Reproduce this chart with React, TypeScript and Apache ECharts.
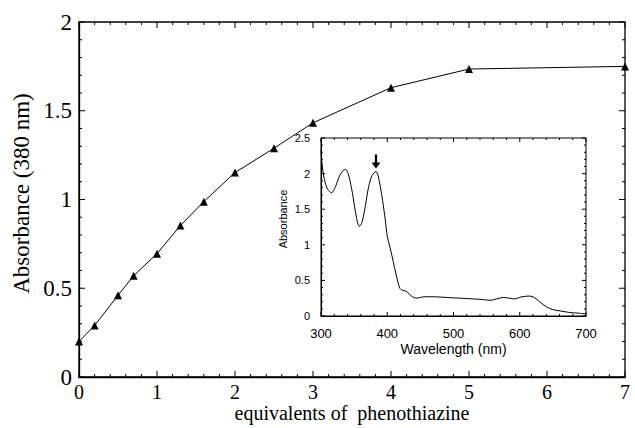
import React, { useEffect, useRef } from "react";
import * as echarts from "echarts";

// Main titration data: equivalents of phenothiazine vs absorbance at 380 nm
const equivalents = [0, 0.2, 0.5, 0.7, 1.0, 1.3, 1.6, 2.0, 2.5, 3.0, 4.0, 5.0, 7.0];
const absorbance380 = [0.2, 0.29, 0.46, 0.57, 0.695, 0.853, 0.988, 1.152, 1.289, 1.432, 1.63, 1.735, 1.75];

// Inset spectrum: wavelength (nm) vs absorbance
const wavelengths = [
  300, 302, 305, 310, 316, 322, 328, 334, 337, 341, 346, 351, 355, 358, 362, 367, 372, 377, 383,
  386, 389.5, 393, 397, 400, 404, 407, 411, 415, 419, 423, 428, 433, 438, 445, 455, 470, 490, 510,
  530, 545, 555, 565, 575, 585, 592, 603, 615, 622, 630, 640, 650, 662, 675, 688, 700,
];
const spectrum = [
  2.33, 2.1, 1.92, 1.78, 1.73, 1.82, 1.97, 2.05, 2.06, 2.0, 1.8, 1.52, 1.32, 1.26, 1.32, 1.55, 1.82, 1.97, 2.03,
  1.98, 1.82, 1.62, 1.35, 1.12, 0.97, 0.85, 0.68, 0.52, 0.39, 0.36, 0.35, 0.31, 0.27, 0.25, 0.27, 0.27, 0.26, 0.25,
  0.24, 0.23, 0.22, 0.24, 0.26, 0.25, 0.24, 0.27, 0.28, 0.26, 0.2, 0.13, 0.09, 0.07, 0.05, 0.04, 0.03,
];
const arrowAt = [383, 2.17];

// Axis tick values
const mainXMajor = [0, 1, 2, 3, 4, 5, 6, 7];
const mainYMajor = [0, 0.5, 1, 1.5, 2];
const insetXMajor = [300, 400, 500, 600, 700];
const insetYMajor = [0, 0.5, 1, 1.5, 2, 2.5];
const MINOR_SPLIT = 5;

const SERIF = "Liberation Serif";
const SANS = "Liberation Sans";

function minorOf(major: number[]) {
  const out: number[] = [];
  for (let i = 0; i < major.length - 1; i++) {
    const step = (major[i + 1] - major[i]) / MINOR_SPLIT;
    for (let k = 1; k < MINOR_SPLIT; k++) out.push(major[i] + step * k);
  }
  return out;
}

// Ticks on all four sides of a frame, placed through the axes' scales (drawn as thin filled rects)
function tickSeries(axisIdx: number, xMajor: number[], yMajor: number[], majLen: number, minLen: number, z: number) {
  const xMin = xMajor[0], xMax = xMajor[xMajor.length - 1];
  const yMin = yMajor[0], yMax = yMajor[yMajor.length - 1];
  const items: { v: number[]; side: number; len: number }[] = [];
  const push = (vals: number[], len: number, isX: boolean) => {
    vals.forEach((v) => {
      if (isX) {
        items.push({ v: [v, yMin], side: 0, len });
        items.push({ v: [v, yMax], side: 1, len });
      } else {
        items.push({ v: [xMin, v], side: 2, len });
        items.push({ v: [xMax, v], side: 3, len });
      }
    });
  };
  push(xMajor, majLen, true);
  push(minorOf(xMajor), minLen, true);
  push(yMajor, majLen, false);
  push(minorOf(yMajor), minLen, false);
  return {
    type: "custom",
    xAxisIndex: axisIdx,
    yAxisIndex: axisIdx,
    silent: true,
    clip: false,
    z,
    data: items.map((it) => it.v),
    renderItem: (params: any, api: any) => {
      const it = items[params.dataIndex];
      const p = api.coord(it.v);
      const L = it.len;
      let shape;
      if (it.side === 0) shape = { x: p[0] - 0.5, y: p[1] - L, width: 1, height: L };
      else if (it.side === 1) shape = { x: p[0] - 0.5, y: p[1], width: 1, height: L };
      else if (it.side === 2) shape = { x: p[0], y: p[1] - 0.5, width: L, height: 1 };
      else shape = { x: p[0] - L, y: p[1] - 0.5, width: L, height: 1 };
      return { type: "rect", shape, style: { fill: "#000" } };
    },
  };
}

function baseAxis(extra: any, lw: number) {
  return {
    type: "value",
    axisLine: { show: true, onZero: false, lineStyle: { color: "#000", width: lw } },
    axisTick: { show: false },
    minorTick: { show: false },
    splitLine: { show: false },
    nameMoveOverlap: false,
    ...extra,
  };
}

export default function App() {
  const ref = useRef<HTMLDivElement>(null);
  useEffect(() => {
    if (!ref.current) return;
    const chart = echarts.init(ref.current, undefined, { renderer: "svg" });
    const option: any = {
      animation: false,
      backgroundColor: "#fff",
      grid: [
        { left: 79, top: 22, right: 10, bottom: 49, show: true, borderColor: "#000", borderWidth: 1.3, backgroundColor: "transparent" },
        { left: 321, top: 138, right: 49, bottom: 112, show: true, backgroundColor: "#fff", borderColor: "#000", borderWidth: 1, z: 5 },
      ],
      xAxis: [
        baseAxis(
          {
            gridIndex: 0,
            min: mainXMajor[0],
            max: mainXMajor[mainXMajor.length - 1],
            interval: 1,
            name: "equivalents of  phenothiazine",
            nameLocation: "middle",
            nameGap: 26,
            nameTextStyle: { fontFamily: SERIF, fontSize: 20, color: "#000" },
            axisLabel: { show: true, margin: 5, fontFamily: SERIF, fontSize: 20, color: "#000" },
          },
          1.3
        ),
        baseAxis(
          {
            gridIndex: 1,
            min: insetXMajor[0],
            max: insetXMajor[insetXMajor.length - 1],
            interval: 100,
            name: "Wavelength (nm)",
            nameLocation: "middle",
            nameGap: 26,
            nameTextStyle: { fontFamily: SANS, fontSize: 14, color: "#000" },
            axisLabel: { show: true, margin: 11, fontFamily: SANS, fontSize: 13, color: "#000" },
            z: 6,
          },
          1
        ),
      ],
      yAxis: [
        baseAxis(
          {
            gridIndex: 0,
            min: mainYMajor[0],
            max: mainYMajor[mainYMajor.length - 1],
            interval: 0.5,
            name: "Absorbance (380 nm)",
            nameLocation: "middle",
            nameGap: 46,
            nameTextStyle: { fontFamily: SERIF, fontSize: 23, color: "#000", padding: [0, 0, 0, 12] },
            axisLabel: { show: true, margin: 7, fontFamily: SERIF, fontSize: 23, color: "#000" },
          },
          1.3
        ),
        baseAxis(
          {
            gridIndex: 1,
            min: insetYMajor[0],
            max: insetYMajor[insetYMajor.length - 1],
            interval: 0.5,
            name: "Absorbance",
            nameLocation: "middle",
            nameGap: 33,
            nameTextStyle: { fontFamily: SANS, fontSize: 11, color: "#000", padding: [0, 0, 0, 16] },
            axisLabel: { show: true, margin: 11, fontFamily: SANS, fontSize: 11, color: "#000" },
            z: 6,
          },
          1
        ),
      ],
      series: [
        {
          type: "line",
          xAxisIndex: 0,
          yAxisIndex: 0,
          data: equivalents.map((x, i) => [x, absorbance380[i]]),
          symbol: "triangle",
          symbolSize: 8,
          clip: false,
          lineStyle: { color: "#000", width: 1 },
          itemStyle: { color: "#000" },
          z: 3,
        },
        tickSeries(0, mainXMajor, mainYMajor, 6, 3, 4),
        {
          type: "line",
          xAxisIndex: 1,
          yAxisIndex: 1,
          data: wavelengths.map((w, i) => [w, spectrum[i]]),
          symbol: "none",
          smooth: 0.3,
          lineStyle: { color: "#000", width: 1 },
          itemStyle: { color: "#000" },
          z: 7,
          markPoint: {
            symbol: "path://M3,0 L5,0 L5,8 L8,8 L4,14 L0,8 L3,8 Z",
            symbolSize: [9, 14],
            label: { show: false },
            itemStyle: { color: "#000" },
            data: [{ coord: arrowAt }],
          },
        },
        tickSeries(1, insetXMajor, insetYMajor, 4, 2, 8),
      ],
    };
    chart.setOption(option);
    return () => chart.dispose();
  }, []);
  return (
    <div
      ref={ref}
      style={{ position: "fixed", left: 0, top: 0, width: 635, height: 428, background: "#fff" }}
    />
  );
}
